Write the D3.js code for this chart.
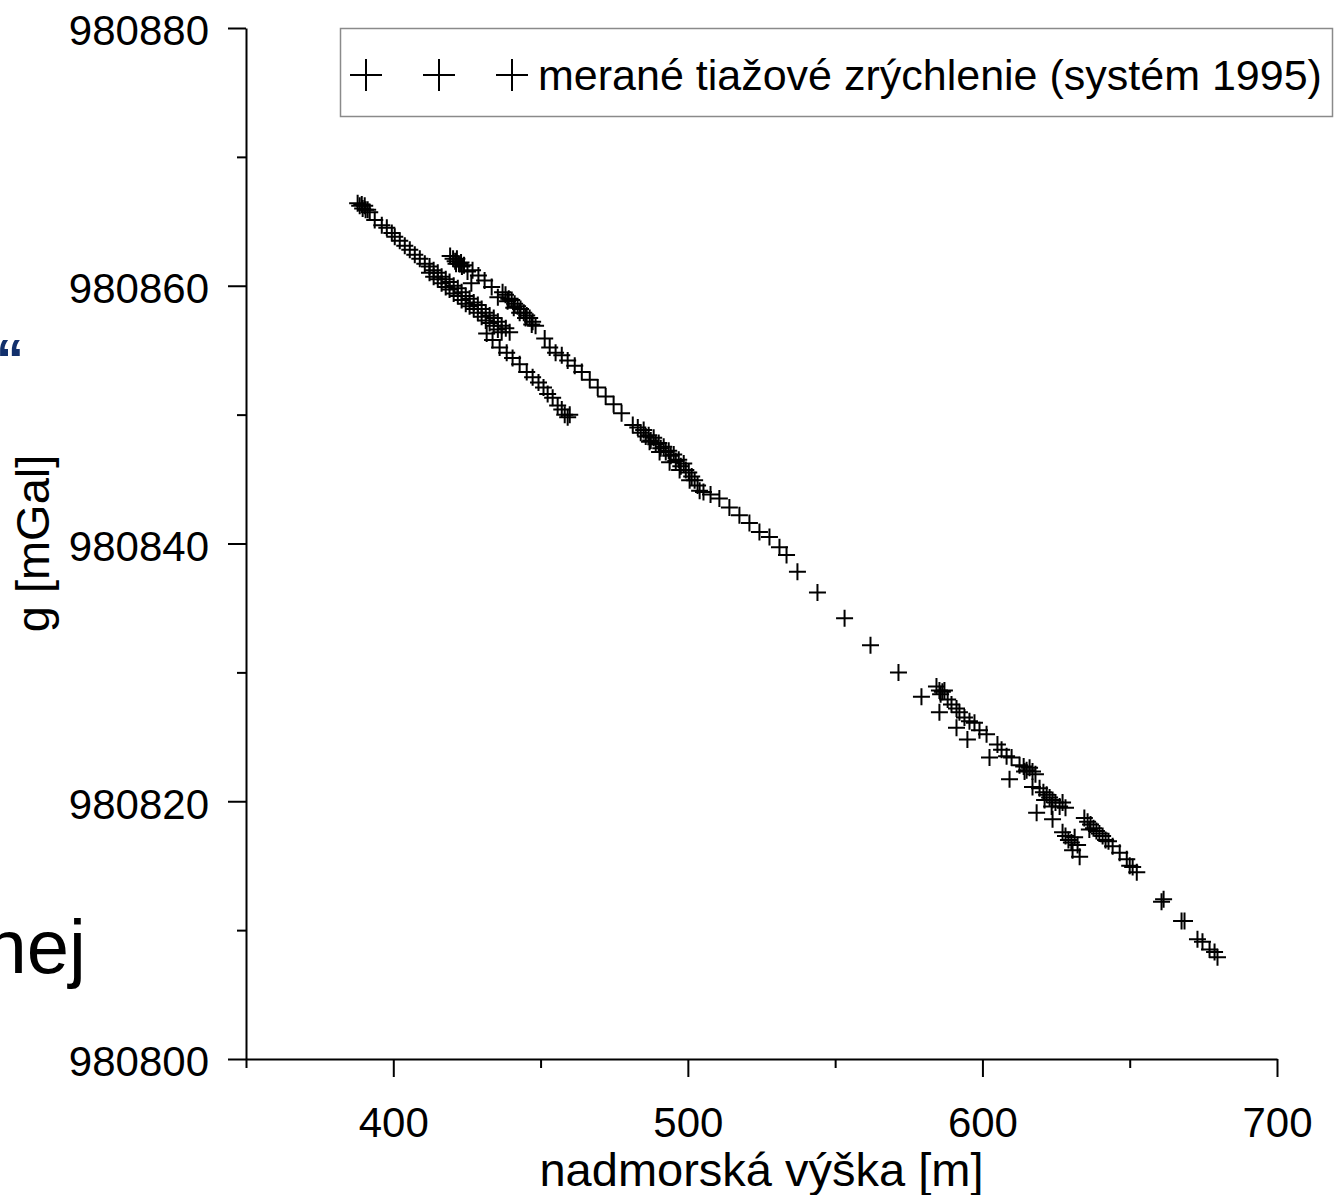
<!DOCTYPE html>
<html>
<head>
<meta charset="utf-8">
<script src="https://cdn.jsdelivr.net/npm/d3@7"></script>
<style>
  body { margin: 0; background: #fff; }
  svg { display: block; font-family: "Liberation Sans", Arial, sans-serif; }
  .axis path, .axis line { stroke: #000; stroke-width: 2; }
  .axis text { font-size: 42px; fill: #000; font-family: "Liberation Sans", Arial, sans-serif; }
  .marker { stroke: #000; stroke-width: 2; fill: none; }
</style>
</head>
<body>
<div id="chart"></div>
<script>
// Axis ticks
const xTicks = [400, 500, 600, 700];
const xMinorTicks = [350, 450, 550, 650];
const yTicks = [980800, 980820, 980840, 980860, 980880];
const yMinorTicks = [980810, 980830, 980850, 980870];

// Labels
const xTitle = "nadmorská výška [m]";
const yTitle = "g [mGal]";
const legendLabel = "merané tiažové zrýchlenie (systém 1995)";

// Measured points [height m, g mGal], grouped by profile segment
const topBand = [
  [387.9, 980866.4], [388.6, 980866.2], [389.3, 980866.3], [389.6, 980866.0],
  [390.3, 980866.2], [390.6, 980865.9], [391.3, 980865.9], [392.0, 980865.7],
  [393.7, 980865.1], [396.1, 980864.7], [397.8, 980864.5], [399.5, 980864.1],
  [400.5, 980863.8], [402.2, 980863.5], [403.9, 980863.1], [405.6, 980862.8],
  [407.3, 980862.4], [409.0, 980862.1], [410.7, 980861.7],
  [412.3, 980861.5], [412.3, 980861.0], [413.7, 980861.2], [413.7, 980860.7],
  [415.1, 980861.0], [415.1, 980860.5], [416.4, 980860.7], [416.4, 980860.2],
  [417.8, 980860.5], [417.8, 980859.9], [419.1, 980860.3], [419.1, 980859.7],
  [420.5, 980860.0], [420.5, 980859.4], [421.9, 980859.8], [421.9, 980859.2],
  [423.2, 980859.5], [423.2, 980858.9], [424.6, 980859.2], [424.6, 980858.6],
  [425.9, 980859.0], [425.9, 980858.4], [427.3, 980858.7], [427.3, 980858.2],
  [428.7, 980858.5], [428.7, 980857.9], [430.0, 980858.2], [430.0, 980857.6],
  [431.4, 980857.9], [431.4, 980857.3], [432.7, 980857.7], [432.7, 980857.1],
  [434.1, 980857.5], [434.1, 980856.9], [435.5, 980857.2], [435.5, 980856.6],
  [436.8, 980856.9], [436.8, 980856.4], [438.2, 980856.7], [439.5, 980856.4]
];

const lowerBranch = [
  [431.7, 980856.3], [433.7, 980855.8], [436.1, 980855.2], [438.5, 980854.8],
  [440.5, 980854.4], [442.9, 980853.9], [445.3, 980853.3], [447.3, 980852.9],
  [449.3, 980852.5], [451.0, 980852.1], [452.4, 980851.6], [454.1, 980851.3],
  [455.8, 980850.7], [457.2, 980850.4], [458.2, 980850.0], [459.2, 980849.8],
  [459.9, 980850.0]
];

const upperBranch = [
  [419.3, 980862.3], [420.3, 980862.1], [421.0, 980861.9], [421.6, 980862.1],
  [422.3, 980861.7], [423.0, 980861.8], [423.3, 980861.5], [424.0, 980861.6],
  [421.3, 980861.7],
  [425.2, 980861.1], [426.9, 980861.2], [426.5, 980860.2], [428.9, 980860.8],
  [431.0, 980860.4], [433.4, 980859.9], [435.5, 980859.1],
  [437.1, 980859.5], [438.1, 980859.3], [439.2, 980859.0], [440.2, 980858.9],
  [441.2, 980858.6], [442.2, 980858.4], [443.2, 980858.2], [444.3, 980857.9],
  [445.3, 980857.7], [446.3, 980857.5], [447.3, 980857.2], [448.3, 980856.9],
  [438.8, 980858.8], [440.9, 980858.3], [442.9, 980857.9], [444.9, 980857.5],
  [447.0, 980857.0],
  [451.4, 980855.9], [453.1, 980855.2], [455.1, 980854.8], [457.2, 980854.6],
  [459.2, 980854.2], [461.6, 980853.8], [464.0, 980853.3], [466.7, 980852.7],
  [469.4, 980852.1], [472.1, 980851.4], [474.8, 980850.8], [477.5, 980850.1],
  [481.3, 980849.2]
];

const middleBand = [
  [483.0, 980849.0], [484.0, 980848.6], [485.0, 980848.8], [485.7, 980848.3],
  [486.7, 980848.4], [487.4, 980848.0], [488.4, 980848.2], [489.1, 980847.7],
  [490.1, 980847.8], [490.8, 980847.4], [491.8, 980847.5], [492.5, 980847.1],
  [493.5, 980847.2], [494.2, 980846.8], [495.2, 980846.9], [495.9, 980846.4],
  [496.9, 980846.5], [497.6, 980846.0], [498.6, 980846.2], [499.3, 980845.7],
  [500.3, 980845.5], [501.3, 980845.2], [502.3, 980844.9], [503.3, 980844.5],
  [504.0, 980844.1], [490.4, 980847.1], [493.8, 980846.3], [497.2, 980845.7],
  [500.6, 980844.9], [487.0, 980847.9],
  [505.3, 980844.0], [507.7, 980843.8], [510.7, 980843.5], [514.1, 980842.8],
  [517.5, 980842.2], [520.9, 980841.6], [524.3, 980840.9], [527.7, 980840.5],
  [531.1, 980839.7], [533.5, 980839.1], [537.2, 980837.8], [544.0, 980836.2],
  [553.2, 980834.2], [562.0, 980832.1], [571.5, 980830.0], [579.3, 980828.1]
];

const bottomBand = [
  [585.4, 980828.6], [584.4, 980828.9], [586.4, 980828.5], [587.1, 980828.6],
  [585.8, 980828.3], [585.4, 980826.9], [588.2, 980827.9], [589.5, 980827.5],
  [591.2, 980827.2], [591.2, 980825.7], [592.2, 980826.9], [593.9, 980826.5],
  [595.6, 980826.2], [597.3, 980826.1], [594.9, 980824.8], [599.0, 980825.5],
  [601.4, 980825.2], [602.4, 980823.4], [605.1, 980824.4], [606.5, 980824.0],
  [608.2, 980823.5], [609.9, 980823.4], [609.2, 980821.7], [612.6, 980822.8],
  [614.0, 980822.7], [615.0, 980822.4], [616.0, 980822.6], [617.0, 980822.3],
  [618.0, 980822.1], [614.3, 980822.3], [617.0, 980821.1], [618.4, 980819.1],
  [619.4, 980821.0], [620.7, 980820.7], [621.8, 980820.5], [622.8, 980820.3],
  [623.8, 980820.1], [624.8, 980819.9], [626.2, 980819.6], [627.2, 980819.9],
  [628.2, 980819.5], [621.1, 980820.1], [623.5, 980819.6], [623.8, 980818.6],
  [627.2, 980817.6], [628.2, 980817.3], [629.2, 980817.0], [630.2, 980816.8],
  [631.3, 980817.2], [632.3, 980816.6], [630.6, 980816.2], [633.0, 980815.7],
  [634.6, 980818.7], [635.7, 980818.4], [636.7, 980818.2], [637.7, 980817.9],
  [638.7, 980817.7], [639.7, 980817.5], [640.8, 980817.3], [641.8, 980817.0],
  [642.8, 980816.9], [636.3, 980817.8], [644.2, 980816.5], [646.6, 980816.0],
  [649.0, 980815.5], [651.0, 980814.9], [652.4, 980814.5], [650.0, 980815.0],
  [660.8, 980812.2], [661.5, 980812.4], [667.6, 980810.7], [668.6, 980810.7],
  [673.0, 980809.3], [674.7, 980809.1], [677.1, 980808.5], [678.8, 980808.3],
  [679.8, 980807.9]
];

const points = [...topBand, ...lowerBranch, ...upperBranch, ...middleBand, ...bottomBand];

// Set the dimensions and margins of the graph
const margin = {top: 28, right: 57, bottom: 136, left: 246};
const totalWidth = 1334;
const totalHeight = 1195;
const width = totalWidth - margin.left - margin.right;
const height = totalHeight - margin.top - margin.bottom;

const root = d3.select("#chart")
               .append("svg")
               .attr("width", totalWidth)
               .attr("height", totalHeight);

root.append("rect")
    .attr("width", totalWidth)
    .attr("height", totalHeight)
    .attr("fill", "#fff");

// Leftover pieces of the slide behind the chart
root.append("text")
    .attr("x", -4)
    .attr("y", 378)
    .attr("font-size", 56)
    .attr("font-weight", "bold")
    .attr("fill", "#12306c")
    .text("\u201C");

root.append("text")
    .attr("x", 86)
    .attr("y", 973)
    .attr("text-anchor", "end")
    .attr("font-size", 76)
    .attr("fill", "#000")
    .text("nej");

const svg = root.append("g")
                .attr("transform", `translate(${margin.left},${margin.top})`);

// Scales
const x = d3.scaleLinear().domain([350, 700]).range([0, width]);
const y = d3.scaleLinear().domain([980800, 980880]).range([height, 0]);

// Minor ticks first
svg.append("g")
   .attr("class", "axis")
   .attr("transform", `translate(0,${height})`)
   .call(d3.axisBottom(x).tickValues(xMinorTicks).tickSize(9).tickFormat(""))
   .select(".domain").remove();

svg.append("g")
   .attr("class", "axis")
   .call(d3.axisLeft(y).tickValues(yMinorTicks).tickSize(9).tickFormat(""))
   .select(".domain").remove();

// X axis
const xAxisGroup = svg.append("g")
   .attr("class", "axis")
   .attr("transform", `translate(0,${height})`)
   .call(d3.axisBottom(x).tickValues(xTicks).tickSize(18).tickPadding(30)
           .tickSizeOuter(0).tickFormat(d3.format("d")));

// Y axis
const yAxisGroup = svg.append("g")
   .attr("class", "axis")
   .call(d3.axisLeft(y).tickValues(yTicks).tickSize(18).tickPadding(19)
           .tickSizeOuter(0).tickFormat(d3.format("d")));
yAxisGroup.selectAll("text").attr("dy", "0.4em");

// Axis titles
root.append("text")
    .attr("x", margin.left + width / 2)
    .attr("y", 1186)
    .attr("text-anchor", "middle")
    .attr("font-size", 47)
    .text(xTitle);

root.append("text")
    .attr("transform", `translate(49,${margin.top + height / 2}) rotate(-90)`)
    .attr("text-anchor", "middle")
    .attr("font-size", 47)
    .text(yTitle);

// Plus markers
const plus = s => `M${-s},0H${s}M0,${-s}V${s}`;

svg.append("g")
   .selectAll("path")
   .data(points)
   .join("path")
   .attr("class", "marker")
   .attr("transform", d => `translate(${x(d[0])},${y(d[1])})`)
   .attr("d", plus(8.5));

// Legend
const legend = root.append("g");
legend.append("rect")
      .attr("x", 340.5)
      .attr("y", 28.5)
      .attr("width", 992)
      .attr("height", 88)
      .attr("fill", "#fff")
      .attr("stroke", "#8a8a8a")
      .attr("stroke-width", 1.5);

[366, 439, 512].forEach(cx => {
  legend.append("path")
        .attr("class", "marker")
        .attr("stroke-width", 2.5)
        .attr("transform", `translate(${cx},75)`)
        .attr("d", plus(16));
});

legend.append("text")
      .attr("x", 538)
      .attr("y", 90)
      .attr("font-size", 43)
      .text(legendLabel);
</script>
</body>
</html>
